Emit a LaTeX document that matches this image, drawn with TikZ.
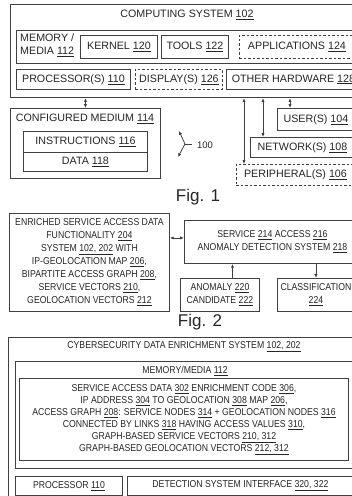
\documentclass[tikz,border=0pt]{standalone}
\usepackage{fontspec}
\setmainfont{Liberation Sans}
\newfontfamily\narrowsans[FakeStretch=0.87]{Liberation Sans}
\usetikzlibrary{arrows.meta}
\newcommand\unum[1]{\underline{#1}}
\begin{document}
\begin{tikzpicture}[x=1pt,y=-1pt,
  every node/.style={text=black!85},
  box/.style={draw=black!75, line width=0.9pt, inner sep=0pt, anchor=north west},
  dbox/.style={box, dash pattern=on 2.5pt off 2pt},
  fone/.style={font=\fontsize{10.7}{13.5}\selectfont},
  ftwo/.style={font=\narrowsans\fontsize{10}{13}\selectfont, align=center},
  fthree/.style={font=\narrowsans\fontsize{10}{12}\selectfont, align=center},
  link/.style={draw=black!75, line width=0.8pt, {Latex[length=3.8pt,width=3.2pt]}-{Latex[length=3.8pt,width=3.2pt]}},
  tip/.style={draw=black!75, line width=0.8pt, -{Latex[length=3.8pt,width=3.2pt]}},
  figlabel/.style={font=\fontsize{17}{20}\selectfont}
]
\useasboundingbox (0,0) rectangle (352,496);
\clip (0,0) rectangle (352,496);
\fill[white] (0,0) rectangle (352,496);

% ---------------- Fig. 1 ----------------
\node[box, line width=1.1pt, minimum width=354, minimum height=93] (cs) at (10,4) {};
\node[fone] (cst) at (187,15) {COMPUTING SYSTEM \unum{102}};
\node[box, minimum width=346, minimum height=33] (mem) at (16,30) {};
\node[fone, align=left, anchor=west, inner sep=0pt] (memt) at (20,45) {MEMORY /\\MEDIA \unum{112}};
\node[box, fone, minimum width=77, minimum height=23] (kern) at (80,35) {KERNEL \unum{120}};
\node[box, fone, minimum width=67, minimum height=23] (tools) at (161,35) {TOOLS \unum{122}};
\node[dbox, fone, minimum width=115, minimum height=23] (apps) at (239,35) {APPLICATIONS \unum{124}};
\node[box, fone, minimum width=114, minimum height=20] (proc) at (16,69) {PROCESSOR(S) \unum{110}};
\node[dbox, fone, minimum width=87, minimum height=20] (disp) at (135,69) {DISPLAY(S) \unum{126}};
\node[box, fone, minimum width=134, minimum height=20] (ohw) at (226,69) {OTHER HARDWARE \unum{128}};

\node[box, minimum width=150, minimum height=70] (cm) at (10,108) {};
\node[fone] (cmt) at (85,119) {CONFIGURED MEDIUM \unum{114}};
\node[box, fone, minimum width=124, minimum height=21] (instr) at (23,131) {INSTRUCTIONS \unum{116}};
\node[box, fone, minimum width=124, minimum height=19] (data) at (23,152) {DATA \unum{118}};
\draw[link] (cm.north) -- (cm.north |- cs.south);

\node[box, fone, minimum width=77, minimum height=22] (user) at (277,108) {USER(S) \unum{104}};
\node[box, fone, minimum width=104, minimum height=20] (net) at (250,137) {NETWORK(S) \unum{108}};
\node[dbox, fone, minimum width=118, minimum height=21] (peri) at (236,164) {PERIPHERAL(S) \unum{106}};
\coordinate (pa) at ([xshift=8pt]peri.north west);
\coordinate (na) at ([xshift=13pt]net.north west);
\coordinate (ua) at ([xshift=13pt]user.north west);
\draw[link] (pa) -- (pa |- cs.south);
\draw[link] (na) -- (na |- cs.south);
\draw[link] (ua) -- (ua |- cs.south);

% reference numeral 100
\coordinate (sj) at (185,144);
\draw[tip] (sj) -- (179,131);
\draw[tip] (sj) -- (178,157);
\draw[draw=black!75, line width=0.8pt] (sj) -- (192,144);
\node[font=\fontsize{9.5}{11}\selectfont] (lab100) at (205,145) {100};

\node[figlabel] (fig1) at (198,197) {Fig. 1};

% ---------------- Fig. 2 ----------------
\node[box, ftwo, minimum width=160, minimum height=98] (enr) at (9,213)
  {ENRICHED SERVICE ACCESS DATA\\FUNCTIONALITY \unum{204}\\SYSTEM \unum{102, 202} WITH\\IP-GEOLOCATION MAP \unum{206},\\BIPARTITE ACCESS GRAPH \unum{208},\\SERVICE VECTORS \unum{210},\\GEOLOCATION VECTORS \unum{212}};
\node[box, ftwo, minimum width=176, minimum height=43] (sad) at (184,220)
  {SERVICE \unum{214} ACCESS \unum{216}\\ANOMALY DETECTION SYSTEM \unum{218}};
\coordinate (sw) at ([yshift=4pt]sad.west);
\draw[link] (sw) -- (sw -| enr.east);
\node[box, ftwo, minimum width=79, minimum height=33] (anom) at (180,278) {ANOMALY \unum{220}\\CANDIDATE \unum{222}};
\node[box, ftwo, minimum width=77, minimum height=33] (cls) at (277,278) {CLASSIFICATION\\\unum{224}};
\coordinate (aa) at ([xshift=12.5pt]anom.north);
\draw[tip] (aa) -- (aa |- sad.south);
\draw[tip] (cls.north |- sad.south) -- (cls.north);

\node[figlabel] (fig2) at (200,322) {Fig. 2};

% ---------------- Fig. 3 ----------------
\node[box, line width=1.1pt, minimum width=352, minimum height=165] (cy) at (8,337) {};
\node[ftwo] (cyt) at (184,347) {CYBERSECURITY DATA ENRICHMENT SYSTEM \unum{102, 202}};
\node[box, minimum width=340, minimum height=107] (mm) at (15,361) {};
\node[ftwo] (mmt) at (185,371) {MEMORY/MEDIA \unum{112}};
\node[box, fthree, minimum width=329, minimum height=82] (code) at (19,378)
  {SERVICE ACCESS DATA \unum{302} ENRICHMENT CODE \unum{306},\\
   IP ADDRESS \unum{304} TO GEOLOCATION \unum{308} MAP \unum{206},\\
   ACCESS GRAPH \unum{208}: SERVICE NODES \unum{314} + GEOLOCATION NODES \unum{316}\\
   CONNECTED BY LINKS \unum{318} HAVING ACCESS VALUES \unum{310},\\
   GRAPH-BASED SERVICE VECTORS \unum{210, 312}\\
   GRAPH-BASED GEOLOCATION VECTORS \unum{212, 312}};
\node[box, ftwo, minimum width=107, minimum height=19] (p3) at (15,476) {PROCESSOR \unum{110}};
\node[box, ftwo, minimum width=226, minimum height=19] (det) at (127,476) {DETECTION SYSTEM INTERFACE \unum{320, 322}};
\end{tikzpicture}
\end{document}
